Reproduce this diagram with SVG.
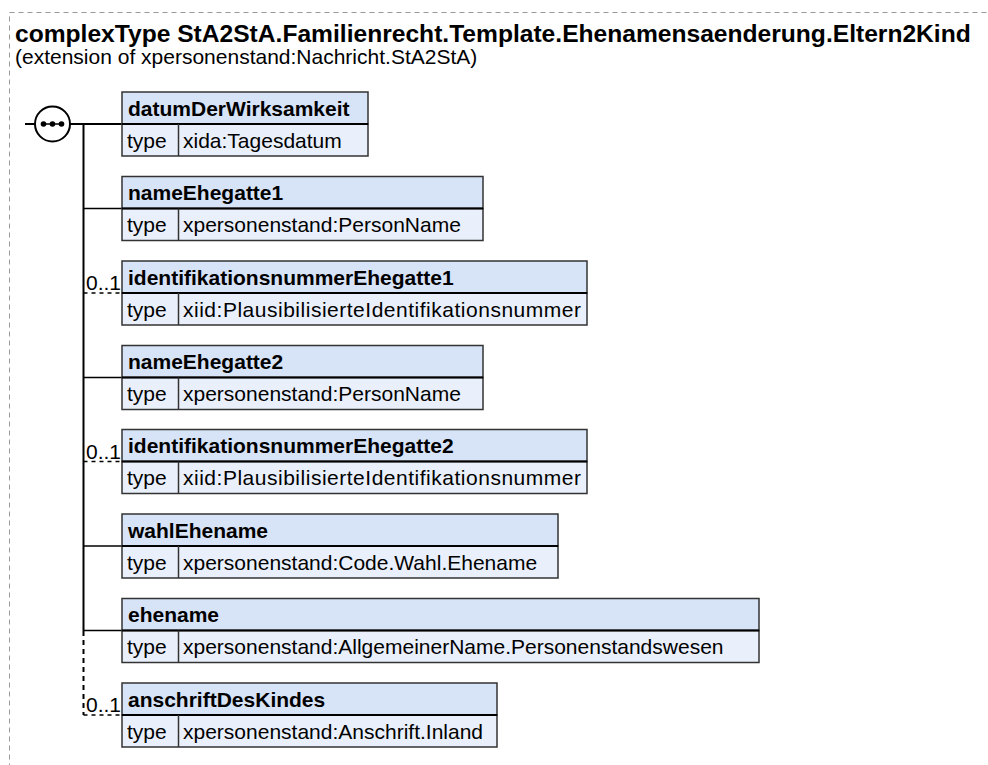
<svg xmlns="http://www.w3.org/2000/svg" width="988" height="765" viewBox="0 0 988 765">
<style>
text{font-family:"Liberation Sans",Arial,sans-serif;fill:#000}
.title{font-size:24.6px;font-weight:bold}
.sub{font-size:21px}
.hdr{fill:#d7e3f7;stroke:#333;stroke-width:1.5}
.row{fill:#eaf0fb;stroke:#333;stroke-width:1.5}
.name{font-size:21px;font-weight:bold}
.t{font-size:21px}
.occ{font-size:21px}
.conn{stroke:#000;stroke-width:2;fill:none}
.opt{stroke:#000;stroke-width:1.5;fill:none;stroke-dasharray:4 4}
.vopt{stroke:#000;stroke-width:2;fill:none;stroke-dasharray:5 4}
</style>
<rect x="9.5" y="12.5" width="1000" height="800" fill="none" stroke="#999" stroke-width="1" stroke-dasharray="5 4"/>
<text class="title" x="15" y="42">complexType StA2StA.Familienrecht.Template.Ehenamensaenderung.Eltern2Kind</text>
<text class="sub" x="15" y="64">(extension of xpersonenstand:Nachricht.StA2StA)</text>

<g id="connectors">
<line class="conn" x1="25" y1="124" x2="35" y2="124"/>
<line class="conn" x1="70" y1="124" x2="122" y2="124"/>
<line class="conn" x1="83.5" y1="124" x2="83.5" y2="631"/>
<line class="vopt" x1="83.5" y1="631" x2="83.5" y2="715"/>
<line class="conn" x1="83.5" y1="208.5" x2="122" y2="208.5" style="stroke-width:1.5"/>
<line class="opt" x1="83.5" y1="293" x2="122" y2="293"/>
<line class="conn" x1="83.5" y1="377.5" x2="122" y2="377.5" style="stroke-width:1.5"/>
<line class="opt" x1="83.5" y1="461.5" x2="122" y2="461.5"/>
<line class="conn" x1="83.5" y1="546" x2="122" y2="546" style="stroke-width:1.5"/>
<line class="conn" x1="83.5" y1="630.5" x2="122" y2="630.5" style="stroke-width:1.5"/>
<line class="opt" x1="83.5" y1="715" x2="122" y2="715"/>
<text class="occ" x="86" y="290">0..1</text>
<text class="occ" x="86" y="458.5">0..1</text>
<text class="occ" x="86" y="712">0..1</text>
</g>

<g id="sequence">
<circle cx="52.5" cy="124" r="17.5" fill="#fff" stroke="#000" stroke-width="2"/>
<line x1="43" y1="124" x2="62" y2="124" stroke="#000" stroke-width="1.5"/>
<circle cx="43.5" cy="124" r="2.8" fill="#000"/>
<circle cx="52.5" cy="124" r="2.8" fill="#000"/>
<circle cx="61.5" cy="124" r="2.8" fill="#000"/>
</g>

<g id="datumDerWirksamkeit">
<rect class="hdr" x="122" y="92" width="246" height="32"/>
<rect class="row" x="122" y="124" width="246" height="32"/>
<line x1="122" y1="124" x2="368" y2="124" stroke="#000" stroke-width="2"/>
<line x1="178.5" y1="124" x2="178.5" y2="156" stroke="#333" stroke-width="1.5"/>
<text class="name" x="128" y="115.5">datumDerWirksamkeit</text>
<text class="t" x="127" y="147.5">type</text>
<text class="t" x="183" y="147.5">xida:Tagesdatum</text>
</g>

<g id="nameEhegatte1">
<rect class="hdr" x="122" y="176.5" width="361" height="32"/>
<rect class="row" x="122" y="208.5" width="361" height="32"/>
<line x1="122" y1="208.5" x2="483" y2="208.5" stroke="#000" stroke-width="2"/>
<line x1="178.5" y1="208.5" x2="178.5" y2="240.5" stroke="#333" stroke-width="1.5"/>
<text class="name" x="128" y="200">nameEhegatte1</text>
<text class="t" x="127" y="232">type</text>
<text class="t" x="183" y="232">xpersonenstand:PersonName</text>
</g>

<g id="identifikationsnummerEhegatte1">
<rect class="hdr" x="122" y="261" width="465" height="32"/>
<rect class="row" x="122" y="293" width="465" height="32"/>
<line x1="122" y1="293" x2="587" y2="293" stroke="#000" stroke-width="2"/>
<line x1="178.5" y1="293" x2="178.5" y2="325" stroke="#333" stroke-width="1.5"/>
<text class="name" x="128" y="284.5">identifikationsnummerEhegatte1</text>
<text class="t" x="127" y="316.5">type</text>
<text class="t" x="183" y="316.5" textLength="398" lengthAdjust="spacing">xiid:PlausibilisierteIdentifikationsnummer</text>
</g>

<g id="nameEhegatte2">
<rect class="hdr" x="122" y="345.5" width="361" height="32"/>
<rect class="row" x="122" y="377.5" width="361" height="32"/>
<line x1="122" y1="377.5" x2="483" y2="377.5" stroke="#000" stroke-width="2"/>
<line x1="178.5" y1="377.5" x2="178.5" y2="409.5" stroke="#333" stroke-width="1.5"/>
<text class="name" x="128" y="369">nameEhegatte2</text>
<text class="t" x="127" y="401">type</text>
<text class="t" x="183" y="401">xpersonenstand:PersonName</text>
</g>

<g id="identifikationsnummerEhegatte2">
<rect class="hdr" x="122" y="429.5" width="465" height="32"/>
<rect class="row" x="122" y="461.5" width="465" height="32"/>
<line x1="122" y1="461.5" x2="587" y2="461.5" stroke="#000" stroke-width="2"/>
<line x1="178.5" y1="461.5" x2="178.5" y2="493.5" stroke="#333" stroke-width="1.5"/>
<text class="name" x="128" y="453">identifikationsnummerEhegatte2</text>
<text class="t" x="127" y="485">type</text>
<text class="t" x="183" y="485" textLength="398" lengthAdjust="spacing">xiid:PlausibilisierteIdentifikationsnummer</text>
</g>

<g id="wahlEhename">
<rect class="hdr" x="122" y="514" width="436" height="32"/>
<rect class="row" x="122" y="546" width="436" height="32"/>
<line x1="122" y1="546" x2="558" y2="546" stroke="#000" stroke-width="2"/>
<line x1="178.5" y1="546" x2="178.5" y2="578" stroke="#333" stroke-width="1.5"/>
<text class="name" x="128" y="537.5">wahlEhename</text>
<text class="t" x="127" y="569.5">type</text>
<text class="t" x="183" y="569.5">xpersonenstand:Code.Wahl.Ehename</text>
</g>

<g id="ehename">
<rect class="hdr" x="122" y="598.5" width="637" height="32"/>
<rect class="row" x="122" y="630.5" width="637" height="32"/>
<line x1="122" y1="630.5" x2="759" y2="630.5" stroke="#000" stroke-width="2"/>
<line x1="178.5" y1="630.5" x2="178.5" y2="662.5" stroke="#333" stroke-width="1.5"/>
<text class="name" x="128" y="622">ehename</text>
<text class="t" x="127" y="654">type</text>
<text class="t" x="183" y="654">xpersonenstand:AllgemeinerName.Personenstandswesen</text>
</g>

<g id="anschriftDesKindes">
<rect class="hdr" x="122" y="683" width="375" height="32"/>
<rect class="row" x="122" y="715" width="375" height="32"/>
<line x1="122" y1="715" x2="497" y2="715" stroke="#000" stroke-width="2"/>
<line x1="178.5" y1="715" x2="178.5" y2="747" stroke="#333" stroke-width="1.5"/>
<text class="name" x="128" y="706.5">anschriftDesKindes</text>
<text class="t" x="127" y="738.5">type</text>
<text class="t" x="183" y="738.5">xpersonenstand:Anschrift.Inland</text>
</g>
</svg>
